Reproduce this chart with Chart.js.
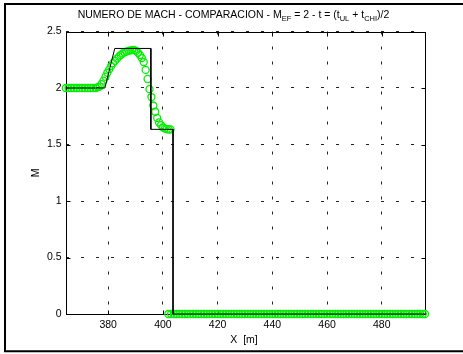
<!DOCTYPE html>
<html>
<head>
<meta charset="utf-8">
<script src="https://cdn.jsdelivr.net/npm/chart.js@4.4.0/dist/chart.umd.min.js"></script>
<style>html,body{margin:0;padding:0;background:#fff}canvas{display:block}</style>
</head>
<body>
<canvas id="c" width="463" height="354"></canvas>
<script>
// exact solution (black line)
var exactX = [364.4, 378.8, 382.4, 395.6, 395.6, 403.7, 403.7, 495.8];
var exactY = [2, 2, 2.35, 2.35, 1.634, 1.634, 0, 0];

// numerical solution (green circles)
var machX = [364.5, 365.5, 366.5, 367.5, 368.5, 369.5, 370.5, 371.5, 372.5, 373.5, 374.5,
  375.5, 376.2, 376.9, 377.6, 378.3, 379.0, 379.7, 380.4, 381.1, 381.8, 382.5, 383.2, 383.9, 384.6,
  385.3, 386.0, 386.7, 387.4, 388.1, 388.8, 389.5, 390.2, 390.9, 391.6, 392.3, 393.0, 393.7, 394.4,
  395.1, 395.8, 396.5, 397.2, 397.9, 398.6, 399.3, 400.0, 400.7, 401.4, 402.1, 402.8,
  402, 403, 404, 405, 406, 407, 408, 409, 410, 411, 412, 413, 414, 415, 416, 417, 418, 419, 420,
  421, 422, 423, 424, 425, 426, 427, 428, 429, 430, 431, 432, 433, 434, 435, 436, 437, 438, 439, 440,
  441, 442, 443, 444, 445, 446, 447, 448, 449, 450, 451, 452, 453, 454, 455, 456, 457, 458, 459, 460,
  461, 462, 463, 464, 465, 466, 467, 468, 469, 470, 471, 472, 473, 474, 475, 476, 477, 478, 479, 480,
  481, 482, 483, 484, 485, 486, 487, 488, 489, 490, 491, 492, 493, 494, 495, 495.8];
var machY = [2, 2, 2, 2, 2, 2, 2, 2, 2, 2, 2,
  2.0, 2.008, 2.013, 2.035, 2.065, 2.10, 2.135, 2.165, 2.195, 2.22, 2.24, 2.26, 2.278, 2.292,
  2.306, 2.315, 2.322, 2.329, 2.333, 2.336, 2.335, 2.328, 2.312, 2.292, 2.265, 2.23, 2.16, 2.08,
  1.99, 1.92, 1.845, 1.79, 1.735, 1.695, 1.672, 1.652, 1.641, 1.636, 1.633, 1.633,
  0, 0, 0, 0, 0, 0, 0, 0, 0, 0, 0, 0, 0, 0, 0, 0, 0, 0, 0,
  0, 0, 0, 0, 0, 0, 0, 0, 0, 0, 0, 0, 0, 0, 0, 0, 0, 0, 0, 0,
  0, 0, 0, 0, 0, 0, 0, 0, 0, 0, 0, 0, 0, 0, 0, 0, 0, 0, 0, 0,
  0, 0, 0, 0, 0, 0, 0, 0, 0, 0, 0, 0, 0, 0, 0, 0, 0, 0, 0, 0,
  0, 0, 0, 0, 0, 0, 0, 0, 0, 0, 0, 0, 0, 0, 0, 0];

var xTicks = [380, 400, 420, 440, 460, 480];
var yTicks = [0, 0.5, 1, 1.5, 2, 2.5];

var FONT = '"Liberation Sans", Arial, sans-serif';

function pts(xs, ys){
  return xs.map(function(x, i){ return {x: x, y: ys[i]}; });
}

// box, inward ticks, texts and figure frame
var matlabLook = {
  id: 'matlabLook',
  beforeDatasetsDraw: function(chart){
    var ctx = chart.ctx, a = chart.chartArea;
    var sx = chart.scales.x, sy = chart.scales.y;
    var L = Math.round(a.left) + 0.5, R = Math.round(a.right) + 0.5;
    var T = Math.round(a.top) + 0.5, B = Math.round(a.bottom) + 0.5;
    ctx.save();
    ctx.strokeStyle = '#000';
    ctx.lineWidth = 1;
    ctx.strokeRect(L, T, R - L, B - T);
    ctx.beginPath();
    xTicks.forEach(function(v){
      var p = Math.round(sx.getPixelForValue(v)) + 0.5;
      ctx.moveTo(p, B); ctx.lineTo(p, B - 4);
      ctx.moveTo(p, T); ctx.lineTo(p, T + 4);
    });
    yTicks.forEach(function(v){
      var p = Math.round(sy.getPixelForValue(v)) + 0.5;
      ctx.moveTo(L, p); ctx.lineTo(L + 4, p);
      ctx.moveTo(R, p); ctx.lineTo(R - 4, p);
    });
    ctx.stroke();
    ctx.restore();
  },
  afterDraw: function(chart){
    var ctx = chart.ctx;
    ctx.save();
    ctx.fillStyle = '#000';
    // title with subscripts
    var parts = [
      ['NUMERO DE MACH - COMPARACION - M', 0], ['EF', 1], [' = 2 - t = (t', 0], ['UL', 1],
      [' + t', 0], ['CHI', 1], [')/2', 0]
    ];
    var big = '10.5px ' + FONT, small = '7.5px ' + FONT;
    var w = 0;
    parts.forEach(function(p){ ctx.font = p[1] ? small : big; w += ctx.measureText(p[0]).width; });
    var x = 233.5 - w / 2;
    ctx.textBaseline = 'alphabetic';
    ctx.textAlign = 'left';
    parts.forEach(function(p){
      ctx.font = p[1] ? small : big;
      ctx.fillText(p[0], x, p[1] ? 20.5 : 17.5);
      x += ctx.measureText(p[0]).width;
    });
    // axis labels
    ctx.font = big;
    ctx.textAlign = 'center';
    ctx.fillText('X  [m]', 244, 343);
    ctx.translate(36, 173);
    ctx.rotate(-Math.PI / 2);
    ctx.textBaseline = 'middle';
    ctx.fillText('M', 0, 0);
    ctx.restore();
    // figure frame
    ctx.save();
    ctx.strokeStyle = '#000';
    ctx.lineWidth = 2;
    ctx.beginPath();
    ctx.moveTo(463, 4); ctx.lineTo(5, 4); ctx.lineTo(5, 351.3); ctx.lineTo(463, 351.3);
    ctx.stroke();
    ctx.restore();
  }
};

var tickFont = {family: FONT, size: 10.5};
var plainLabel = function(v){ return String(v); };

new Chart(document.getElementById('c').getContext('2d'), {
  type: 'scatter',
  data: {
    datasets: [
      {label: 'exacta', data: pts(exactX, exactY), showLine: true, borderColor: '#000', borderWidth: 1,
       pointRadius: 0, tension: 0, fill: false, clip: false},
      {label: 'numerica', data: pts(machX, machY), showLine: false, pointStyle: 'circle', pointRadius: 3.5,
       borderColor: '#00f000', backgroundColor: 'rgba(0,0,0,0)', borderWidth: 1.3, clip: false}
    ]
  },
  options: {
    responsive: false,
    animation: false,
    devicePixelRatio: 1,
    layout: {padding: {left: 0, top: 31.5, right: 38, bottom: 0}},
    plugins: {legend: {display: false}, title: {display: false}, tooltip: {enabled: false}},
    scales: {
      x: {
        type: 'linear', min: 364.4, max: 495.8,
        afterBuildTicks: function(s){ s.ticks = xTicks.map(function(v){ return {value: v}; }); },
        afterFit: function(s){ s.height = 40; },
        ticks: {font: tickFont, color: '#000', padding: 5, maxRotation: 0, autoSkip: false, callback: plainLabel},
        grid: {color: '#222', lineWidth: 1, drawTicks: false},
        border: {display: false, dash: [3, 12]}
      },
      y: {
        type: 'linear', min: 0, max: 2.5,
        afterBuildTicks: function(s){ s.ticks = yTicks.map(function(v){ return {value: v}; }); },
        afterFit: function(s){ s.width = 65.5; },
        ticks: {font: tickFont, color: '#000', padding: 4, autoSkip: false, callback: plainLabel},
        grid: {color: '#222', lineWidth: 1, drawTicks: false},
        border: {display: false, dash: [3, 12]}
      }
    }
  },
  plugins: [matlabLook]
});
</script>
</body>
</html>
